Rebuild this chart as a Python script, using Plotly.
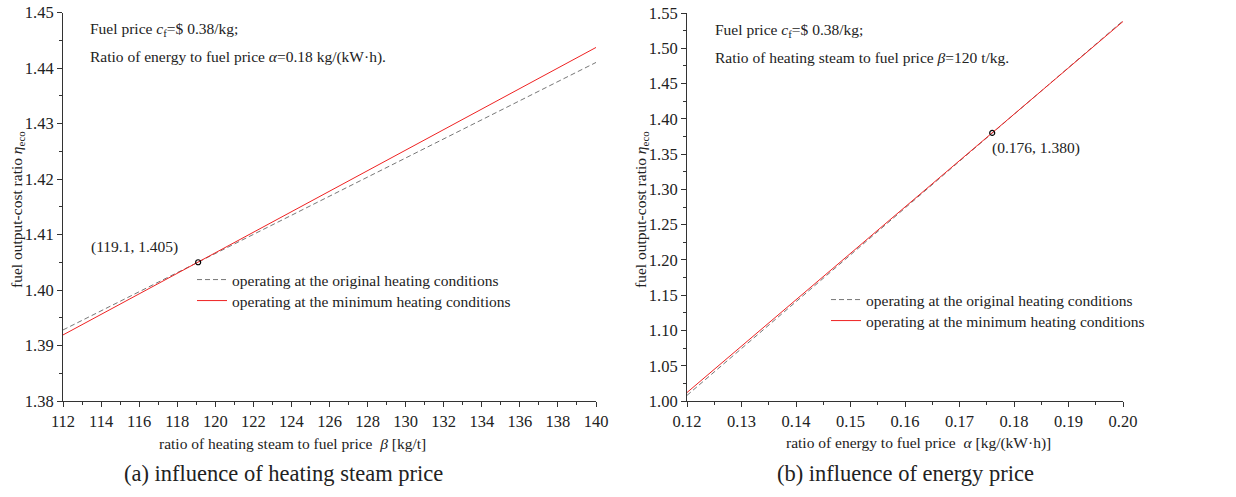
import plotly.graph_objects as go

# ---- data (a): influence of heating steam price ----
beta = [112, 119.1, 140]
eta_orig_a = [1.3928, 1.405, 1.4410]
eta_min_a = [1.3919, 1.405, 1.4437]
pt_a = (119.1, 1.405)

# ---- data (b): influence of energy price ----
alpha = [0.12, 0.176, 0.20]
eta_orig_b = [1.008, 1.380, 1.539]
eta_min_b = [1.012, 1.380, 1.538]
pt_b = (0.176, 1.380)

NAME_ORIG = "operating at the original heating conditions"
NAME_MIN = "operating at the minimum heating conditions"

FONT = "Liberation Serif"
AX = "#333333"
W, H = 1236, 497
FS = 15.5

fig = go.Figure()

fig.add_trace(go.Scatter(x=beta, y=eta_orig_a, mode="lines", xaxis="x", yaxis="y",
                         line=dict(color="#777777", width=1, dash="5px,3px"),
                         name=NAME_ORIG, legend="legend"))
fig.add_trace(go.Scatter(x=beta, y=eta_min_a, mode="lines", xaxis="x", yaxis="y",
                         line=dict(color="#ee2222", width=1),
                         name=NAME_MIN, legend="legend2"))
fig.add_trace(go.Scatter(x=[pt_a[0]], y=[pt_a[1]], mode="markers", xaxis="x", yaxis="y",
                         marker=dict(symbol="circle-open", size=5, color="black", line=dict(width=1.2)),
                         showlegend=False))

fig.add_trace(go.Scatter(x=alpha, y=eta_orig_b, mode="lines", xaxis="x2", yaxis="y2",
                         line=dict(color="#777777", width=1, dash="5px,3px"),
                         name=NAME_ORIG, legend="legend3"))
fig.add_trace(go.Scatter(x=alpha, y=eta_min_b, mode="lines", xaxis="x2", yaxis="y2",
                         line=dict(color="#ee2222", width=1),
                         name=NAME_MIN, legend="legend4"))
fig.add_trace(go.Scatter(x=[pt_b[0]], y=[pt_b[1]], mode="markers", xaxis="x2", yaxis="y2",
                         marker=dict(symbol="circle-open", size=5, color="black", line=dict(width=1.2)),
                         showlegend=False))

def px(x):
    return x / W

def py(y):
    return 1 - y / H

axcommon = dict(showline=True, linecolor=AX, linewidth=1, ticks="outside", ticklen=5,
                tickcolor=AX, showgrid=False, zeroline=False, automargin=False,
                tickfont=dict(family=FONT, size=16.5, color="#222222"), mirror=False)

def leg(x, ytop):
    return dict(x=px(x), y=py(ytop), xanchor="left", yanchor="top", bgcolor="rgba(0,0,0,0)",
                font=dict(family=FONT, size=FS, color="#222222"), tracegroupgap=0, itemwidth=30)

fig.update_layout(
    width=W, height=H, margin=dict(l=0, r=0, t=0, b=0),
    paper_bgcolor="white", plot_bgcolor="white",
    font=dict(family=FONT, size=FS, color="#222222"),
    xaxis=dict(domain=[px(63), px(596)], range=[112, 140], dtick=2, anchor="y",
               minor=dict(dtick=1, ticks="outside", ticklen=3, tickcolor=AX), **axcommon),
    yaxis=dict(domain=[py(401), py(12.5)], range=[1.38, 1.45], dtick=0.01, tickformat=".2f",
               anchor="x", minor=dict(dtick=0.005, ticks="outside", ticklen=3, tickcolor=AX), **axcommon),
    xaxis2=dict(domain=[px(687), px(1123)], range=[0.12, 0.20], dtick=0.01, tickformat=".2f",
                anchor="y2", minor=dict(dtick=0.005, ticks="outside", ticklen=3, tickcolor=AX), **axcommon),
    yaxis2=dict(domain=[py(401), py(13)], range=[1.00, 1.55], dtick=0.05, tickformat=".2f",
                anchor="x2", minor=dict(dtick=0.025, ticks="outside", ticklen=3, tickcolor=AX), **axcommon),
    legend=leg(192, 263),
    legend2=leg(192, 284),
    legend3=leg(826, 283),
    legend4=leg(826, 304),
)

ann = []
def text(x, y, s, size=FS, xanchor="left", angle=0):
    ann.append(dict(x=px(x), y=py(y), xref="paper", yref="paper", text=s, showarrow=False,
                    xanchor=xanchor, yanchor="middle", textangle=angle, borderpad=0,
                    font=dict(family=FONT, size=size, color="#222222")))

text(89, 30, "Fuel price <i>c</i><sub>f</sub>=$ 0.38/kg;")
text(89, 57, "Ratio of energy to fuel price <i>α</i>=0.18 kg/(kW·h).")
text(714, 31, "Fuel price <i>c</i><sub>f</sub>=$ 0.38/kg;")
text(714, 58, "Ratio of heating steam to fuel price <i>β</i>=120 t/kg.")
text(90, 247, "(119.1, 1.405)")
text(991, 148, "(0.176, 1.380)")
text(292, 443, "ratio of heating steam to fuel price  <i>β</i> [kg/t]", xanchor="center")
text(918, 443, "ratio of energy to fuel price  <i>α</i> [kg/(kW·h)]", xanchor="center")
text(17, 210, "fuel output-cost ratio <i>η</i><sub>eco</sub>", xanchor="center", angle=-90)
text(641, 210, "fuel output-cost ratio <i>η</i><sub>eco</sub>", xanchor="center", angle=-90)
text(283, 473, "(a) influence of heating steam price", size=22.5, xanchor="center")
text(905, 473, "(b) influence of energy price", size=22.5, xanchor="center")
fig.update_layout(annotations=ann)

fig.write_html("out.html")
